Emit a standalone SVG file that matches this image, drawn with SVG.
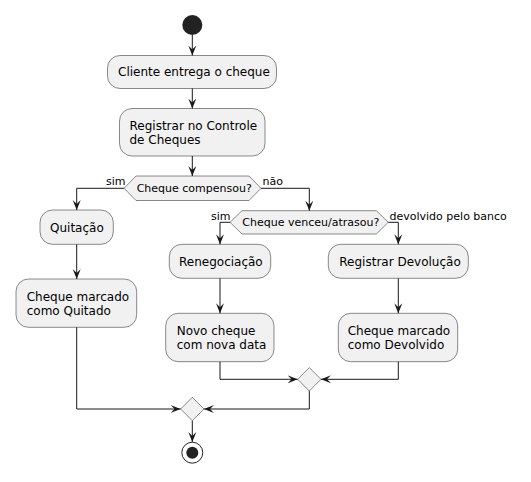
<svg xmlns="http://www.w3.org/2000/svg" width="531" height="482" viewBox="0 0 531 482">
<style>
.box{fill:#F1F1F1;stroke:#181818;stroke-width:0.5}
.t{font-family:"DejaVu Sans",sans-serif;font-size:12px;fill:#000}
.l{font-family:"DejaVu Sans",sans-serif;font-size:11px;fill:#000}
.c{fill:none;stroke:#181818;stroke-width:1;marker-end:url(#arr)}
</style>
<defs>
<marker id="arr" viewBox="-10 -5 10 10" refX="0" refY="0" markerWidth="10" markerHeight="10" markerUnits="userSpaceOnUse" orient="auto">
<path d="M0,0 L-10,-4 L-6,0 L-10,4 Z" fill="#181818"/>
</marker>
</defs>
<rect width="531" height="482" fill="#FFFFFF"/>
<g id="start"><circle cx="192.3" cy="25" r="10" fill="#222222"/></g>
<g id="n1"><rect class="box" x="107.5" y="55.5" width="169" height="33" rx="12.5"/><text class="t" x="118" y="76">Cliente entrega o cheque</text></g>
<g id="n2"><rect class="box" x="119.5" y="108.5" width="145.5" height="47.5" rx="12.5"/><text class="t" x="129.5" y="130">Registrar no Controle</text><text class="t" x="129.5" y="144">de Cheques</text></g>
<g id="d1"><polygon class="box" points="124,188.3 136,176 249,176 261,188.3 249,200.5 136,200.5"/><text class="l" x="136.7" y="192">Cheque compensou?</text></g>
<g id="d2"><polygon class="box" points="230,222.3 242,210.7 376.3,210.7 388.3,222.3 376.3,234 242,234"/><text class="l" x="242.3" y="226">Cheque venceu/atrasou?</text></g>
<g id="n3"><rect class="box" x="40" y="210" width="73.3" height="34.3" rx="12.5"/><text class="t" x="50" y="231.5">Quitação</text></g>
<g id="n4"><rect class="box" x="16" y="279" width="120.7" height="48.3" rx="12.5"/><text class="t" x="26.7" y="300.5">Cheque marcado</text><text class="t" x="26.7" y="314.5">como Quitado</text></g>
<g id="n5"><rect class="box" x="169.3" y="244.3" width="101.4" height="34" rx="12.5"/><text class="t" x="179" y="266">Renegociação</text></g>
<g id="n6"><rect class="box" x="328.3" y="244.3" width="140" height="34" rx="12.5"/><text class="t" x="339.3" y="266">Registrar Devolução</text></g>
<g id="n7"><rect class="box" x="165.7" y="313.3" width="108.3" height="48.4" rx="12.5"/><text class="t" x="176.7" y="335">Novo cheque</text><text class="t" x="176.7" y="349">com nova data</text></g>
<g id="n8"><rect class="box" x="338.3" y="313.3" width="119.4" height="48.4" rx="12.5"/><text class="t" x="347.7" y="335">Cheque marcado</text><text class="t" x="347.7" y="349">como Devolvido</text></g>
<g id="m1"><polygon class="box" points="309.3,367.6 321,379.3 309.3,391 297.6,379.3"/></g>
<g id="m2"><polygon class="box" points="192.3,397.3 204,409 192.3,420.7 180.6,409"/></g>
<g id="end"><circle cx="192.3" cy="452.7" r="10.5" fill="none" stroke="#222222" stroke-width="1"/><circle cx="192.3" cy="452.7" r="6" fill="#222222"/></g>
<g id="connectors">
<path class="c" d="M192.3,35 V55.5"/>
<path class="c" d="M192.3,88.5 V108.5"/>
<path class="c" d="M192.3,156 V176"/>
<path class="c" d="M124,188.3 H76.7 V210"/>
<path class="c" d="M261,188.3 H309.3 V210.7"/>
<path class="c" d="M230,222.3 H220 V244.3"/>
<path class="c" d="M388.3,222.3 H398.3 V244.3"/>
<path class="c" d="M76.7,244.3 V279"/>
<path class="c" d="M220,278.3 V313.3"/>
<path class="c" d="M398.3,278.3 V313.3"/>
<path class="c" d="M220,361.7 V379.3 H297.6"/>
<path class="c" d="M398.3,361.7 V379.3 H321"/>
<path class="c" d="M76.7,327.3 V409 H180.6"/>
<path class="c" d="M309.3,391 V409 H204"/>
<path class="c" d="M192.3,420.7 V442"/>
<text class="l" x="106" y="185">sim</text>
<text class="l" x="262.5" y="185">não</text>
<text class="l" x="211" y="219.5">sim</text>
<text class="l" x="389.5" y="219.5">devolvido pelo banco</text>
</g>
</svg>
